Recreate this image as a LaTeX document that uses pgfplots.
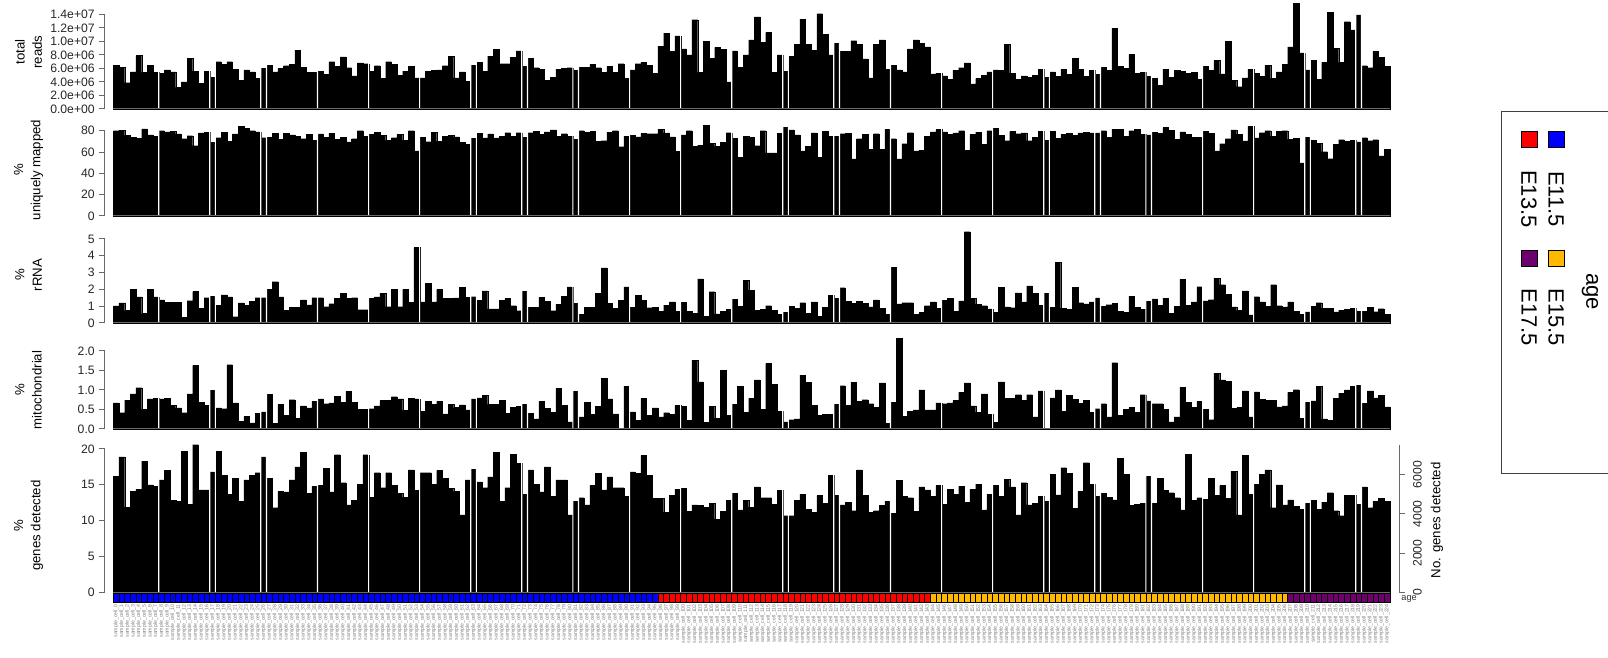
\documentclass[border=0pt]{standalone}
\usepackage{fontspec}
\setmainfont{Liberation Sans}
\usepackage{pgfplots}
\pgfplotsset{compat=1.18}
\usepackage{pgfplotstable}
\definecolor{ageA}{RGB}{0,0,255}
\definecolor{ageB}{RGB}{255,0,0}
\definecolor{ageC}{RGB}{255,185,0}
\definecolor{ageD}{RGB}{110,0,110}
\definecolor{axgray}{RGB}{105,105,105}

\pgfplotstableread{
i reads mapped rrna mito genes
0 6.5e6 80 1.02 0.67 16.2
1 6.2e6 80.6 1.2 0.42 18.9
2 3.9e6 75.6 0.74 0.74 11.9
3 5.5e6 74 2.0 0.9 14.1
4 7.9e6 73 1.56 1.06 14.4
5 5.4e6 81.6 0.56 0.5 18.3
6 6.5e6 76 2.0 0.77 15.0
7 5.4e6 74.7 1.56 0.79 14.8
8 5.3e6 80 1.38 0.77 15.7
9 5.8e6 79 1.24 0.79 17.0
10 5.5e6 79.4 1.22 0.61 12.8
11 3.2e6 77 1.22 0.54 12.7
12 4.0e6 72.5 0.34 0.42 19.7
13 7.45e6 75.3 1.33 0.9 12.3
14 5.6e6 66 1.87 1.63 20.6
15 3.8e6 78 0.88 0.69 14.3
16 5.6e6 78.4 1.51 0.61 14.3
17 4.7e6 69 1.58 0.99 16.8
18 7.0e6 73.4 1.06 0.54 19.7
19 6.6e6 78.4 1.67 0.52 16.3
20 7.0e6 70 1.56 1.65 13.7
21 5.9e6 77 0.38 0.67 15.9
22 4.2e6 84 1.2 0.2 12.7
23 5.8e6 82 1.06 0.32 15.7
24 5.5e6 80 1.29 0.16 16.3
25 4.5e6 79 1.51 0.4 16.7
26 6.0e6 73.4 1.51 0.44 18.9
27 6.5e6 74 1.99 0.89 15.9
28 5.5e6 77.8 2.46 0.15 11.8
29 6.0e6 72 1.56 0.63 14.1
30 6.4e6 77.8 0.74 0.35 14.0
31 6.6e6 76 0.93 0.75 15.7
32 8.7e6 74.7 0.93 0.28 17.5
33 6.2e6 72.5 1.38 0.59 19.5
34 5.4e6 76.6 1.08 0.54 13.8
35 5.4e6 71 1.51 0.71 14.8
36 5.6e6 77 1.51 0.77 14.9
37 5.1e6 74 0.97 0.65 17.3
38 7.0e6 77.8 1.15 0.67 14.0
39 6.3e6 72 1.47 0.84 19.2
40 7.7e6 74 1.78 0.69 15.3
41 6.1e6 69.4 1.47 0.97 12.2
42 4.9e6 72.5 1.51 0.69 12.8
43 6.8e6 80 0.79 0.5 15.1
44 6.7e6 74.7 0.79 0.5 19.2
45 5.6e6 76.6 1.47 0.52 13.3
46 6.4e6 78.4 1.56 0.59 16.7
47 4.5e6 75.6 1.78 0.73 14.6
48 7.0e6 71 0.97 0.73 16.7
49 6.6e6 73.4 2.0 0.83 14.9
50 5.0e6 76.6 0.97 0.77 13.8
51 5.6e6 71 2.0 0.48 13.3
52 6.3e6 80 1.22 0.79 17.1
53 4.6e6 61 4.49 0.77 14.2
54 4.6e6 74 1.25 0.46 16.7
55 5.6e6 69.7 2.35 0.71 16.7
56 5.7e6 78.3 1.25 0.64 15.1
57 5.8e6 70.2 2.0 0.71 17.0
58 6.4e6 75 1.48 0.39 15.9
59 7.8e6 75.5 1.48 0.64 14.5
60 4.6e6 74.2 1.5 0.55 14.1
61 5.5e6 69.2 2.14 0.62 10.8
62 4.1e6 67 1.53 0.49 15.7
63 6.5e6 72.7 1.57 0.77 17.2
64 6.9e6 77.6 1.34 0.8 15.4
65 5.6e6 73.3 1.91 0.86 14.6
66 7.8e6 77.1 0.84 0.63 16.1
67 8.8e6 73.3 0.84 0.63 19.5
68 6.7e6 75 1.34 0.73 12.7
69 6.7e6 78.2 1.46 0.41 14.6
70 7.6e6 75 1.03 0.56 19.3
71 8.6e6 78.2 0.73 0.58 18.0
72 6.3e6 73.6 1.87 0.63 13.7
73 7.5e6 78.2 0.93 0.4 17.1
74 6.1e6 79.3 0.93 0.26 15.1
75 5.9e6 76.5 1.53 0.71 14.0
76 4.2e6 79 1.3 0.53 17.5
77 4.7e6 80.8 0.73 0.43 13.4
78 5.9e6 74.7 1.12 1.04 15.7
79 6.0e6 77.2 1.6 0.6 15.7
80 6.1e6 74.7 2.15 0.18 10.8
81 5.7e6 72.1 1.16 0.96 12.7
82 6.2e6 80 0.53 0.31 13.2
83 6.2e6 78.6 0.93 0.68 12.2
84 6.6e6 79.3 0.93 0.37 14.9
85 6.1e6 70 1.76 0.58 16.6
86 5.4e6 70.7 3.28 1.3 14.3
87 6.3e6 78.6 1.16 0.77 16.1
88 5.4e6 80 0.89 0.39 14.6
89 6.7e6 65 1.35 0.02 14.6
90 4.5e6 74.7 2.15 1.1 13.4
91 5.8e6 75.7 0.93 0.44 16.8
92 6.7e6 74.3 1.65 0.22 16.6
93 6.9e6 77.5 1.35 0.79 19.1
94 6.5e6 77.2 0.91 0.35 16.3
95 5.3e6 77.2 0.93 0.54 13.1
96 9.3e6 81.5 0.68 0.31 13.1
97 11.2e6 77.9 1.07 0.42 11.2
98 8.5e6 74.3 1.25 0.37 13.5
99 10.8e6 60.7 0.7 0.6 14.4
100 8.9e6 76.1 1.23 0.58 14.5
101 8.0e6 80 0.68 0.23 11.3
102 13.2e6 65.3 0.58 1.76 12.2
103 5.4e6 66.4 2.63 1.21 12.1
104 10.0e6 85.1 0.39 0.17 11.9
105 7.5e6 68.2 1.86 0.58 12.4
106 9.1e6 65.3 0.55 0.28 10.2
107 8.8e6 69.3 0.68 1.51 11.3
108 4.0e6 78.2 0.82 0.35 12.8
109 8.6e6 72.9 1.41 0.63 13.8
110 6.2e6 55.3 0.98 1.1 11.5
111 8.0e6 75 2.53 0.43 12.8
112 10.2e6 73.6 1.96 0.79 11.9
113 13.6e6 66 0.75 1.26 14.7
114 9.9e6 80 0.8 0.51 13.2
115 11.3e6 59.2 1.03 1.68 13.2
116 5.4e6 59.2 0.75 1.15 12.3
117 8.0e6 77.5 0.52 0.45 14.2
118 5.6e6 83.3 0.64 0.18 10.7
119 7.8e6 80.8 0.98 0.24 10.7
120 9.6e6 76.1 0.89 0.26 12.8
121 13.3e6 61 1.21 1.38 13.7
122 9.6e6 65.3 0.57 1.2 11.6
123 8.7e6 77.9 1.25 0.61 11.2
124 14.1e6 55.3 0.41 0.35 13.5
125 11.0e6 79.3 0.93 0.37 12.4
126 8.0e6 75 1.66 0.37 16.3
127 9.7e6 75 1.48 0.63 13.5
128 8.5e6 77.2 2.1 1.11 12.2
129 8.5e6 77.5 1.3 0.61 12.6
130 10.1e6 53.5 1.18 1.2 11.4
131 9.6e6 72.5 1.28 0.71 17.1
132 7.4e6 76.5 1.18 0.75 13.5
133 4.6e6 62.8 0.96 0.65 11.2
134 9.6e6 77.2 1.37 0.55 11.4
135 10.2e6 62.8 0.89 1.18 12.1
136 5.9e6 81.5 0.52 0.14 12.7
137 6.5e6 72.5 3.3 0.68 11.0
138 5.8e6 53.5 1.14 2.32 15.6
139 5.5e6 67.8 1.21 0.33 13.4
140 8.9e6 78.2 1.21 0.45 13.2
141 10.2e6 61 0.52 0.49 11.3
142 9.7e6 61.7 0.62 1.0 14.7
143 9.2e6 75 1.03 0.49 14.3
144 5.2e6 79 1.25 0.49 13.4
145 5.3e6 81.1 0.89 0.67 14.9
146 4.9e6 79 1.34 0.65 12.3
147 4.4e6 76.8 1.46 0.67 14.4
148 5.7e6 77.9 0.68 0.73 13.7
149 6.1e6 80 1.32 0.94 14.8
150 6.8e6 61.4 5.44 1.18 12.6
151 3.7e6 76.5 1.48 0.59 14.4
152 4.5e6 78.6 1.12 0.43 15.1
153 5.0e6 67.1 1.03 0.9 11.5
154 5.5e6 80 0.84 0.37 13.7
155 5.8e6 82.2 0.64 0.17 14.9
156 5.7e6 75.4 2.12 1.21 13.4
157 9.6e6 70.7 0.96 0.78 15.8
158 5.3e6 79.3 0.91 0.78 14.7
159 4.4e6 77.2 1.8 0.88 10.8
160 4.9e6 77.9 1.25 0.73 15.3
161 4.7e6 70.7 2.21 0.88 12.2
162 5.0e6 73.6 1.75 0.31 12.4
163 5.9e6 79.3 1.07 0.98 13.4
164 4.7e6 71.1 1.75 0.02 12.7
165 5.5e6 79.7 0.93 0.8 16.5
166 4.8e6 72.9 3.62 1.0 13.6
167 5.9e6 76.5 0.89 0.46 17.4
168 5.1e6 77.5 0.82 0.87 16.6
169 7.5e6 75.4 2.14 0.76 11.7
170 5.9e6 77.9 1.21 0.66 14.1
171 4.8e6 78.6 1.14 0.74 18.1
172 5.7e6 77.9 1.25 0.43 15.1
173 5.1e6 77.9 1.5 0.52 13.4
174 6.2e6 80 0.98 0.65 13.8
175 5.7e6 73.6 1.09 0.31 13.3
176 11.9e6 81.5 1.16 1.7 12.9
177 6.3e6 81.5 0.71 0.35 18.7
178 6.0e6 74.7 0.62 0.5 16.5
179 8.1e6 80 1.59 0.55 12.1
180 5.3e6 81.1 0.93 0.43 12.3
181 5.4e6 76.5 0.8 0.88 12.4
182 4.8e6 76.1 1.3 0.72 16.2
183 4.5e6 78.6 1.44 0.65 12.4
184 3.5e6 77.5 1.07 0.65 15.9
185 5.9e6 82.9 1.48 0.51 14.2
186 4.7e6 80.4 0.57 0.18 13.9
187 5.7e6 71.8 0.98 0.31 13.2
188 5.6e6 79 2.6 1.07 11.5
189 5.3e6 76.5 1.07 0.69 19.3
190 5.4e6 73.6 1.25 0.56 12.8
191 4.4e6 73.6 2.16 0.71 13.2
192 6.3e6 79.3 1.32 0.5 13.0
193 5.7e6 77.5 1.39 0.24 15.9
194 7.2e6 61 2.67 1.43 13.5
195 5.2e6 67.8 2.28 1.26 14.9
196 10.0e6 72.5 1.71 1.22 13.1
197 4.2e6 80.8 0.96 0.53 16.9
198 3.3e6 76.8 0.75 0.55 10.8
199 4.6e6 70.4 1.91 0.98 19.1
200 5.9e6 84 0.48 0.31 13.7
201 5.3e6 73.2 1.57 0.95 15.1
202 4.8e6 78.2 1.25 0.76 16.5
203 6.5e6 80 0.98 0.73 17.1
204 4.5e6 75 2.28 0.74 11.8
205 5.5e6 79.3 1.03 0.57 15.0
206 6.6e6 80 0.96 0.59 12.2
207 9.2e6 71.8 1.25 0.94 12.9
208 15.6e6 72.9 0.68 1.01 12.0
209 8.3e6 49.9 0.5 0.27 11.6
210 5.8e6 73.9 0.66 0.68 12.4
211 7.2e6 71.1 0.98 0.72 12.8
212 4.4e6 68.2 1.21 1.1 11.6
213 6.9e6 60.3 0.89 0.26 12.6
214 14.3e6 53.8 0.89 0.22 13.9
215 9.0e6 67.5 0.66 0.79 11.4
216 6.9e6 71.6 0.77 0.92 10.7
217 12.9e6 70 0.8 1.0 13.5
218 11.7e6 71 0.87 1.1 13.5
219 13.9e6 69.4 0.68 1.12 12.3
220 6.4e6 73.4 0.71 0.66 14.7
221 6.1e6 70.6 0.93 0.98 11.8
222 8.5e6 71.6 0.67 0.8 12.7
223 7.6e6 56.3 0.85 0.87 13.1
224 6.3e6 62.8 0.52 0.57 12.7
}\qc

% white separators between plates (position, top in each panel)
\pgfplotstableread{
k r m rr mi g
7.5 16e6 86 5.6 2.4 21
16.5 16e6 86 5.6 2.4 21
17.5 16e6 86 5.6 2.4 21
25.5 16e6 86 5.6 2.4 21
26.5 16e6 86 5.6 2.4 21
35.5 16e6 86 5.6 2.4 21
44.5 16e6 86 5.6 2.4 21
53.5 16e6 86 5.6 2.4 21
62.5 16e6 86 5.6 2.4 21
63.5 16e6 86 5.6 2.4 21
71.5 16e6 86 5.6 2.4 21
72.5 16e6 86 5.6 2.4 21
80.5 16e6 86 5.6 2.4 21
81.5 16e6 86 5.6 2.4 21
90.5 16e6 86 5.6 2.4 21
99.5 16e6 86 5.6 2.4 21
108.5 16e6 86 5.6 2.4 21
117.5 16e6 86 5.6 2.4 21
118.5 16e6 86 5.6 2.4 21
126.5 16e6 86 5.6 2.4 21
127.5 16e6 86 5.6 2.4 21
136.5 16e6 86 5.6 2.4 21
145.5 16e6 86 5.6 2.4 21
154.5 16e6 86 5.6 2.4 21
163.5 16e6 86 5.6 2.4 21
164.5 16e6 86 5.6 2.4 21
172.5 16e6 86 5.6 2.4 21
173.5 16e6 86 5.6 2.4 21
181.5 16e6 86 5.6 2.4 21
182.5 16e6 86 5.6 2.4 21
191.5 16e6 86 5.6 2.4 21
200.5 16e6 86 5.6 2.4 21
209.5 16e6 86 5.6 2.4 21
210.5 16e6 86 5.6 2.4 21
218.5 16e6 86 5.6 2.4 21
219.5 16e6 86 5.6 2.4 21
}\seps

\pgfplotsset{
  panel/.style={
    scale only axis, width=647.05pt, anchor=south west,
    xmin=-1.963, xmax=226.14, ymin=0, clip=false,
    scaled ticks=false,
    axis x line=none, axis y line*=left,
    axis line style={draw=axgray, line width=0.5pt, -},
    ytick align=outside, major tick length=2.75pt,
    tick style={draw=axgray, line width=0.5pt},
    yticklabel style={font=\fontsize{6.1}{6.5}\selectfont, inner sep=0pt, xshift=-2.2pt, text=black!85},
    ylabel style={font=\fontsize{6.6}{8.7}\selectfont, align=center, anchor=center, text=black},
  },
  bars/.style={ybar, bar width=1, bar shift=0pt, fill=black, draw=black, line width=0.1pt},
  sepbar/.style={ybar, bar width=0.2, bar shift=0pt, fill=white, draw=none},
  base/.style={axgray, line width=0.5pt, mark=none},
  strip/.style={ybar, bar width=1, bar shift=0pt, draw=black, line width=0.25pt},
}

\begin{document}
\begin{tikzpicture}
\useasboundingbox (0,0) rectangle (804pt,329pt);

% total reads
\begin{axis}[panel, at={(52.5pt,274.5pt)}, height=47.35pt, ymax=14e6,
  ytick={0,2e6,4e6,6e6,8e6,10e6,12e6,14e6},
  yticklabels={0.0e+00,2.0e+06,4.0e+06,6.0e+06,8.0e+06,1.0e+07,1.2e+07,1.4e+07},
  ylabel={total\\reads}, ylabel style={at={(axis description cs:-0.0591,0.60)}}]
\addplot[bars] table[x=i,y=reads]{\qc};
\addplot[sepbar] table[x=k,y=r]{\seps};
\addplot[base] coordinates {(-0.5,0) (224.5,0)};
\end{axis}

% uniquely mapped
\begin{axis}[panel, at={(52.5pt,221pt)}, height=42.65pt, ymax=80,
  ytick={0,20,40,60,80}, yticklabels={0,20,40,60,80},
  ylabel={\%\\uniquely mapped}, ylabel style={at={(axis description cs:-0.0591,0.54)}}]
\addplot[bars] table[x=i,y=mapped]{\qc};
\addplot[sepbar] table[x=k,y=m]{\seps};
\addplot[base] coordinates {(-0.5,0) (224.5,0)};
\end{axis}

% rRNA
\begin{axis}[panel, at={(52.5pt,167.5pt)}, height=42pt, ymax=5,
  ytick={0,1,2,3,4,5}, yticklabels={0,1,2,3,4,5},
  ylabel={\%\\rRNA}, ylabel style={at={(axis description cs:-0.0591,0.57)}}]
\addplot[bars] table[x=i,y=rrna]{\qc};
\addplot[sepbar] table[x=k,y=rr]{\seps};
\addplot[base] coordinates {(-0.5,0) (224.5,0)};
\end{axis}

% mitochondrial
\begin{axis}[panel, at={(52.5pt,114.5pt)}, height=39pt, ymax=2,
  ytick={0,0.5,1,1.5,2}, yticklabels={0.0,0.5,1.0,1.5,2.0},
  ylabel={\%\\mitochondrial}, ylabel style={at={(axis description cs:-0.0591,0.5)}}]
\addplot[bars] table[x=i,y=mito]{\qc};
\addplot[sepbar] table[x=k,y=mi]{\seps};
\addplot[base] coordinates {(-0.5,0) (224.5,0)};
\end{axis}

% genes detected
\begin{axis}[panel, at={(52.5pt,32.85pt)}, height=71.65pt, ymax=20,
  ytick={0,5,10,15,20}, yticklabels={0,5,10,15,20},
  ylabel={\%\\genes detected}, ylabel style={at={(axis description cs:-0.0591,0.465)}}]
\addplot[bars] table[x=i,y=genes]{\qc};
\addplot[sepbar] table[x=k,y=g]{\seps};
\addplot[base] coordinates {(-0.5,0) (224.5,0)};
\end{axis}

% right axis: number of genes detected
\begin{axis}[scale only axis, width=647.05pt, anchor=south west, at={(52.5pt,32.85pt)},
  height=73.5pt, xmin=-1.963, xmax=226.14, ymin=0, ymax=7500, clip=false,
  scaled ticks=false, axis x line=none, axis y line*=right,
  axis line style={draw=axgray, line width=0.5pt, -},
  ytick align=outside, major tick length=2.75pt,
  tick style={draw=axgray, line width=0.5pt},
  ytick={0,2000,4000,6000}, yticklabels={0,2000,4000,6000},
  yticklabel style={xshift=4pt, rotate=90, anchor=north, inner sep=0pt,
    font=\fontsize{6.1}{6.5}\selectfont, text=black!85},
  ylabel={No. genes detected},
  ylabel style={at={(axis description cs:1.0293,0.49)}, anchor=center, rotate=0,
    font=\fontsize{6.6}{7}\selectfont}]
\addplot[draw=none] coordinates {(0,0)};
\end{axis}

% age colour strip with sample labels
\begin{axis}[scale only axis, width=647.05pt, anchor=south west, at={(52.5pt,27.85pt)},
  height=4.5pt, xmin=-1.963, xmax=226.14, ymin=0, ymax=1, clip=false,
  axis line style={draw=none}, ytick=\empty,
  xtick={0,...,224}, xtick style={draw=none}, xticklabel pos=lower,
  xticklabel={sample\_cell\_\ticknum},
  xticklabel style={rotate=90, anchor=east, inner sep=0.8pt,
    font=\fontsize{2.6}{2.6}\selectfont, text=black!50}]
\addplot[strip, fill=ageA, restrict x to domain=0:95] table[x=i, y expr=1]{\qc};
\addplot[strip, fill=ageB, restrict x to domain=96:143] table[x=i, y expr=1]{\qc};
\addplot[strip, fill=ageC, restrict x to domain=144:206] table[x=i, y expr=1]{\qc};
\addplot[strip, fill=ageD, restrict x to domain=207:224] table[x=i, y expr=1]{\qc};
\end{axis}
\node[anchor=west, font=\fontsize{4.6}{5}\selectfont, text=black!80, inner sep=0pt] at (700.5pt,29.3pt) {age};

% legend (rotated, partly cut off at the right edge)
\draw[black!75, line width=0.6pt] (750.8pt,92.3pt) rectangle (830pt,273.2pt);
\draw[fill=ageB, line width=0.35pt] (760.75pt,255.2pt) rectangle +(8pt,8pt);
\draw[fill=ageA, line width=0.35pt] (774.2pt,255.2pt) rectangle +(8pt,8pt);
\draw[fill=ageD, line width=0.35pt] (760.75pt,196pt) rectangle +(8pt,8pt);
\draw[fill=ageC, line width=0.35pt] (774.2pt,196pt) rectangle +(8pt,8pt);
\node[rotate=-90, font=\fontsize{11}{13}\selectfont] at (764.5pt,229.5pt) {E13.5};
\node[rotate=-90, font=\fontsize{11}{13}\selectfont] at (778pt,229.5pt) {E11.5};
\node[rotate=-90, font=\fontsize{11}{13}\selectfont] at (764.5pt,170.25pt) {E17.5};
\node[rotate=-90, font=\fontsize{11}{13}\selectfont] at (778pt,170.25pt) {E15.5};
\node[rotate=-90, font=\fontsize{11}{13}\selectfont] at (795pt,183.25pt) {age};
\end{tikzpicture}
\end{document}
